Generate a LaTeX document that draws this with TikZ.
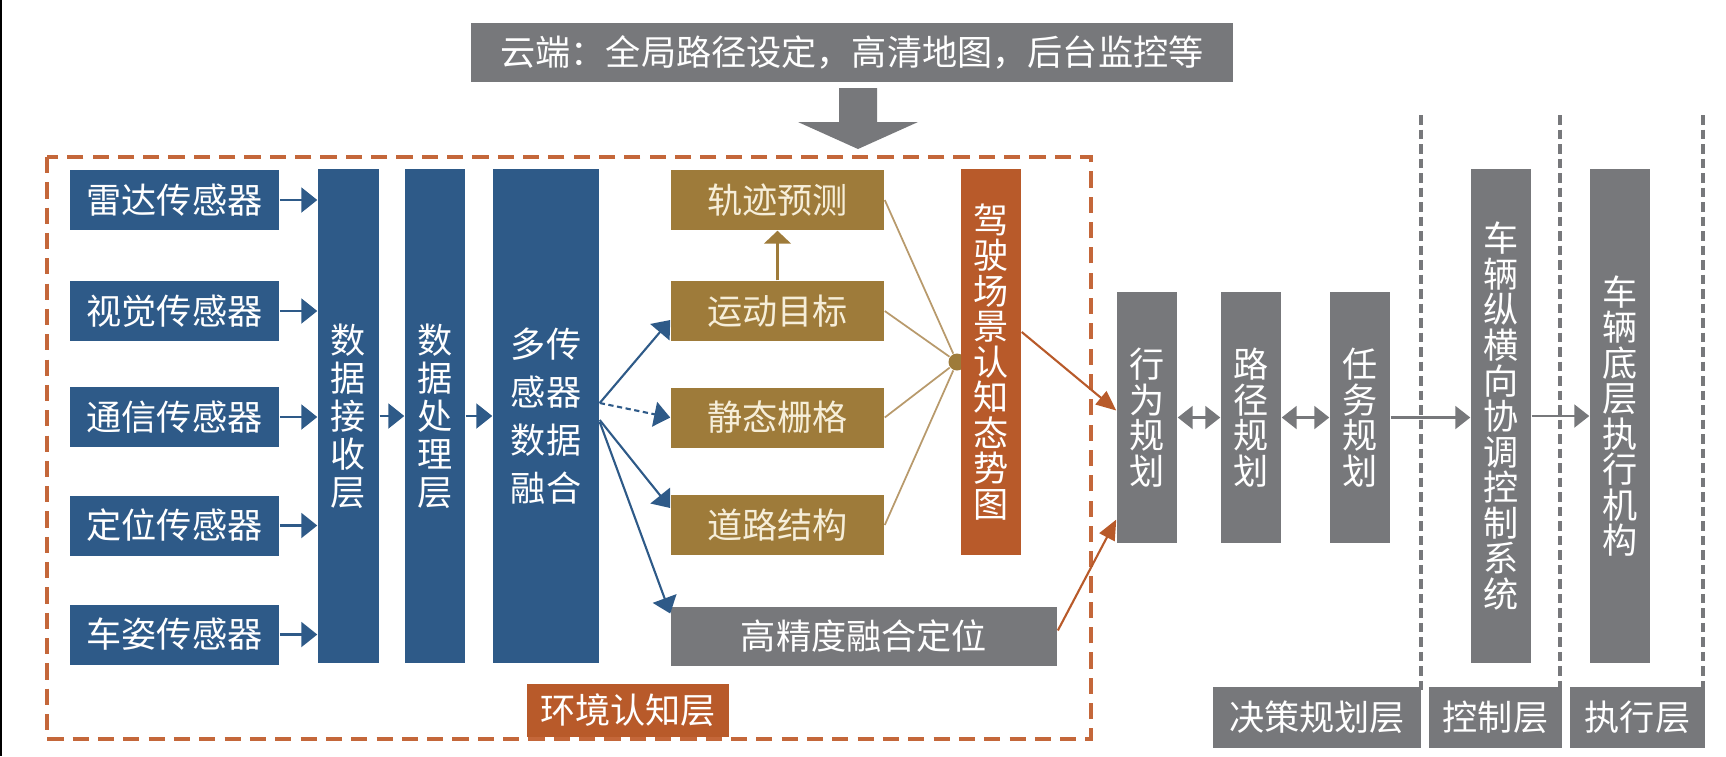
\documentclass[tikz,border=0pt]{standalone}
\usepackage{fontspec}
\setmainfont{Noto Sans CJK SC}
\usetikzlibrary{arrows.meta}
\definecolor{sblue}{HTML}{2E5A88}
\definecolor{sbrown}{HTML}{9E7B3A}
\definecolor{sorange}{HTML}{B85A2A}
\definecolor{sgray}{HTML}{77787B}
\definecolor{stan}{HTML}{B89A6C}
\definecolor{scream}{HTML}{F6EED9}
\definecolor{sframe}{HTML}{C4673A}

\begin{document}
\begin{tikzpicture}[
        x=0.01cm, y=-0.01cm,
        font=\fontsize{10pt}{10.1pt}\selectfont,
        box/.style={rectangle, fill=#1, text=white, inner sep=0pt, align=center},
        sensor/.style={box=sblue, minimum width=2.09cm, minimum height=0.6cm},
        layer/.style={box=sblue, minimum width=0.61cm, minimum height=4.94cm,
            font=\fontsize{10pt}{10.8pt}\selectfont},
        cue/.style={box=sbrown, text=scream, minimum width=2.13cm, minimum height=0.6cm},
        plan/.style={box=sgray, minimum width=0.6cm, minimum height=2.51cm},
        unit/.style={box=sgray, minimum width=0.6cm, minimum height=4.94cm},
        layertag/.style={box=#1, minimum height=0.61cm},
        link/.style={sblue, line width=0.6pt, -{Triangle[length=1.6mm,width=2.5mm]}},
        glink/.style={sgray, line width=0.6pt, -{Triangle[length=1.5mm,width=2.3mm]}},
        gboth/.style={sgray, line width=0.6pt,
            {Triangle[length=1.5mm,width=2.3mm]}-{Triangle[length=1.5mm,width=2.3mm]}},
        olink/.style={sorange, line width=0.6pt, -{Triangle[length=2mm,width=1.7mm]}},
        tlink/.style={stan, line width=0.5pt}
    ]
    \useasboundingbox (0,0) rectangle (1726,756);
    \draw[black, line width=0.6pt] (1,0) -- (1,756);

    % --- Cloud ---
    \node[box=sgray, minimum width=7.61cm, minimum height=0.59cm] (cloud) at (852,52)
    {云端：全局路径设定，高清地图，后台监控等};
    \fill[sgray] (839,88) -- (877,88) -- (877,122) -- (918,122) -- (858,149)
        -- (798,122) -- (839,122) -- cycle;

    % --- Perception frame ---
    \draw[sframe, line width=1.1pt, dash pattern=on 4.6pt off 2.6pt] (47,157) rectangle (1091,739);
    \node[layertag=sorange, minimum width=2.02cm, minimum height=0.53cm] (envtag) at (628,710) {环境认知层};

    % --- Sensors and layers ---
    \node[sensor] (radar)  at (174.5,200)   {雷达传感器};
    \node[sensor] (vision) at (174.5,311)   {视觉传感器};
    \node[sensor] (comm)   at (174.5,417)   {通信传感器};
    \node[sensor] (gnss)   at (174.5,525.5) {定位传感器};
    \node[sensor] (pose)   at (174.5,634.5) {车姿传感器};

    \node[layer] (recv) at (348.5,416) {数\\据\\接\\收\\层};
    \node[layer, minimum width=0.6cm] (proc) at (435,416) {数\\据\\处\\理\\层};
    \node[layer, minimum width=1.06cm, font=\fontsize{10pt}{13.6pt}\selectfont] (fuse) at (546,416)
    {多传\\感器\\数据\\融合};

    % --- Scene cues ---
    \node[cue] (traj) at (777.5,200)   {轨迹预测};
    \node[cue] (mov)  at (777.5,311)   {运动目标};
    \node[cue] (stat) at (777.5,417.5) {静态栅格};
    \node[cue] (road) at (777.5,525)   {道路结构};
    \node[box=sgray, minimum width=3.86cm, minimum height=0.59cm] (hdloc) at (864,636.5) {高精度融合定位};

    \node[circle, fill=sbrown, minimum size=0.17cm, inner sep=0pt] (hub) at (957,362) {};
    \node[box=sorange, minimum width=0.6cm, minimum height=3.86cm] (scene) at (991,362)
    {驾\\驶\\场\\景\\认\\知\\态\\势\\图};

    % --- Planning, control, execution ---
    \node[plan] (beh)  at (1147,417.5) {行\\为\\规\\划};
    \node[plan] (path) at (1251,417.5) {路\\径\\规\\划};
    \node[plan] (task) at (1360,417.5) {任\\务\\规\\划};
    \node[unit] (ctrl) at (1501,416) {车\\辆\\纵\\横\\向\\协\\调\\控\\制\\系\\统};
    \node[unit] (exec) at (1620,416) {车\\辆\\底\\层\\执\\行\\机\\构};

    \foreach \x in {1421,1560,1703}
        \draw[sgray, line width=0.04cm, dash pattern=on 0.095cm off 0.05cm] (\x,115) -- (\x,690);

    \node[layertag=sgray, minimum width=2.08cm] (dectag) at (1317,717.5)   {决策规划层};
    \node[layertag=sgray, minimum width=1.33cm] (ctltag) at (1495.5,717.5) {控制层};
    \node[layertag=sgray, minimum width=1.35cm] (exetag) at (1637.5,717.5) {执行层};

    % --- Connectors ---
    \foreach \s in {radar,vision,comm,gnss,pose}
        \draw[link] (\s.east) -- (\s.east -| recv.west);
    \draw[link] (recv) -- (proc);
    \draw[link] (proc) -- (fuse);

    \draw[link] ([yshift=0.13cm]fuse.east) -- ([yshift=-0.09cm]mov.west);
    \draw[link, dash pattern=on 1.5pt off 1pt] ([yshift=0.13cm]fuse.east) -- (stat.west);
    \draw[link] ([yshift=-0.04cm]fuse.east) -- ([yshift=0.17cm]road.west);
    \draw[link] ([yshift=-0.06cm]fuse.east) -- ([yshift=0.23cm]hdloc.west);

    \draw[sbrown, line width=0.6pt, -{Triangle[length=1.3mm,width=2.7mm]}] (mov) -- (traj);
    \foreach \n in {traj,mov,stat,road}
        \draw[tlink] (\n.east) -- (hub);

    \draw[olink] ([yshift=0.3cm]scene.east) -- ([yshift=0.07cm]beh.west);
    \draw[olink] ([yshift=0.06cm]hdloc.east) -- ([yshift=-1.02cm]beh.west);

    \draw[gboth] (beh) -- (path);
    \draw[gboth] (path) -- (task);
    \draw[glink] (task.east) -- (task.east -| ctrl.west);
    \draw[glink] (ctrl) -- (exec);

\end{tikzpicture}
\end{document}
